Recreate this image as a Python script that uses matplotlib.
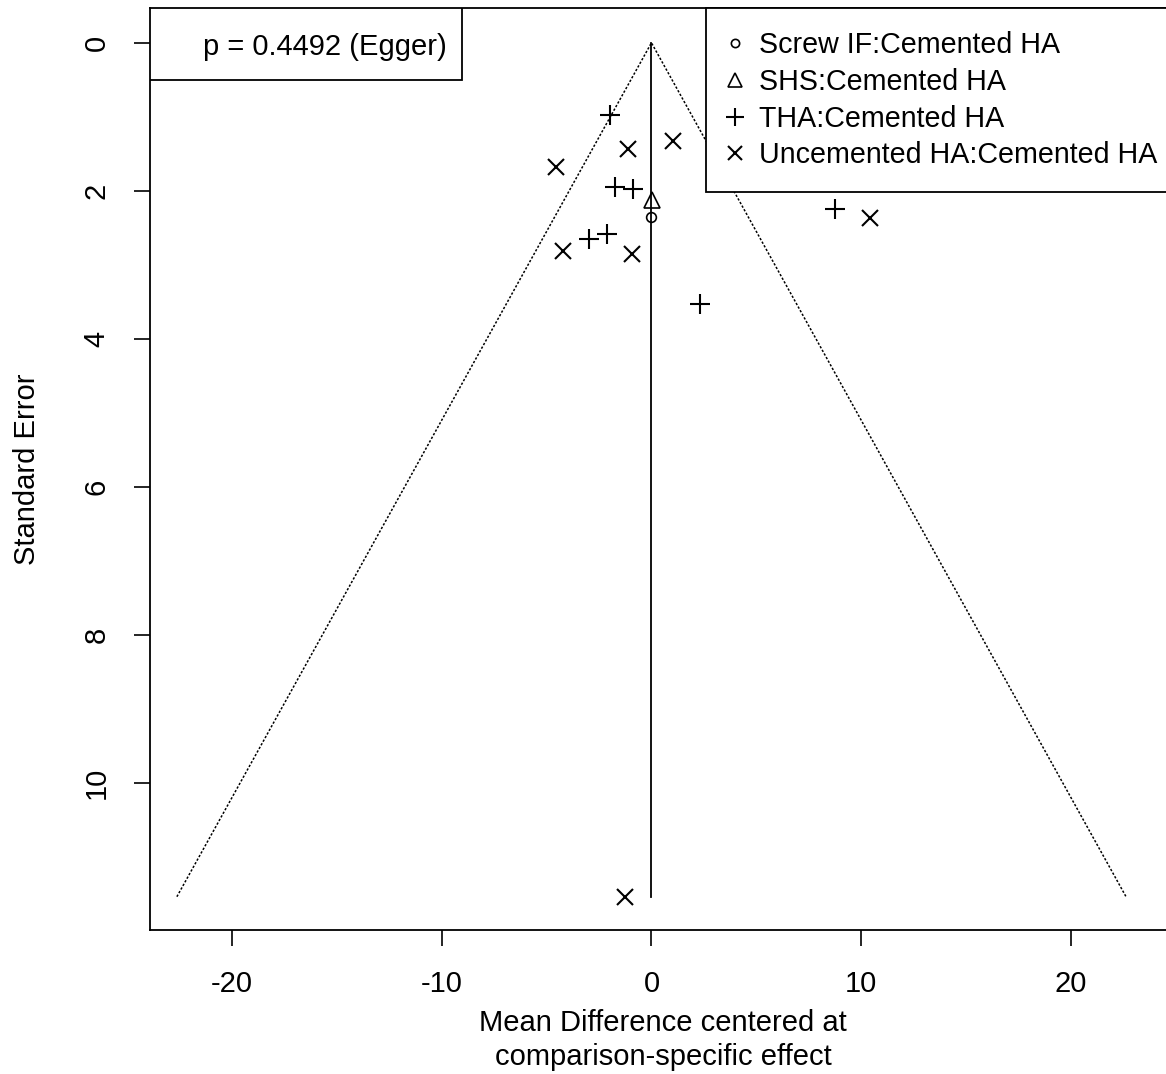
import numpy as np
import matplotlib
matplotlib.use("Agg")
import matplotlib.pyplot as plt
from matplotlib.patches import Rectangle

# ===================== 字体 =====================
plt.rcParams["font.family"] = ["Liberation Sans", "DejaVu Sans"]
plt.rcParams["axes.unicode_minus"] = False

# ===================== 数据 =====================
groups = ["Screw IF:Cemented HA", "SHS:Cemented HA",
          "THA:Cemented HA", "Uncemented HA:Cemented HA"]
markers = ["o", "^", "+", "x"]
marker_sizes = [7, 12, 14.5, 11.5]

screw_md = [0.0]
screw_se = [2.35]

shs_md = [0.03]
shs_se = [2.12]

tha_md = [-1.96, -1.75, -0.87, -2.99, -2.11, 2.30, 8.77]
tha_se = [0.97, 1.95, 1.97, 2.65, 2.58, 3.53, 2.25]

unc_md = [-1.11, 1.02, -4.55, -4.21, -0.92, 10.40, -1.27]
unc_se = [1.44, 1.33, 1.68, 2.82, 2.86, 2.37, 11.54]

md_all = [screw_md, shs_md, tha_md, unc_md]
se_all = [screw_se, shs_se, tha_se, unc_se]

p_egger = 0.4492
x_ticks = [-20, -10, 0, 10, 20]
y_ticks = [0, 2, 4, 6, 8, 10]

# ===================== 画图 =====================
fig = plt.figure(figsize=(11.66, 10.74), dpi=100)
ax = fig.add_axes([0.12864, 0.13408, 0.87993, 0.85847])

max_se = max(max(s) for s in se_all)
# 漏斗线
ax.plot([-1.96 * max_se, 0, 1.96 * max_se], [max_se, 0, max_se],
        color="black", lw=1.1, linestyle=(0, (1.5, 1.2)))
ax.plot([0, 0], [0, max_se], color="black", lw=1.3)

for md, se, m, ms, lab in zip(md_all, se_all, markers, marker_sizes, groups):
    if m in ("o", "^"):
        ax.plot(md, se, linestyle="none", marker=m, markersize=ms,
                markerfacecolor="none", markeredgecolor="black",
                markeredgewidth=1.2, label=lab)
    else:
        ax.plot(md, se, linestyle="none", marker=m, markersize=ms,
                color="black", markeredgewidth=1.5, label=lab)

ax.set_xlim(-23.9, 25.0)
ax.set_ylim(11.99, -0.47)
ax.set_xticks(x_ticks)
ax.set_yticks(y_ticks)
ax.tick_params(axis="both", direction="out", length=11.5, width=1.2,
               labelsize=21, pad=17)
for lbl in ax.get_yticklabels():
    lbl.set_rotation(90)
    lbl.set_va("center")

for side in ["left", "bottom", "top", "right"]:
    ax.spines[side].set_linewidth(1.3)

ax.set_xlabel("Mean Difference centered at\ncomparison-specific effect",
              fontsize=21, labelpad=8, linespacing=1.3)
ax.set_ylabel("Standard Error", fontsize=21, labelpad=30)

# p 值框
ax.add_patch(Rectangle((0, 1 - 0.0781), 0.3041, 0.0781, transform=ax.transAxes,
                       facecolor="white", edgecolor="black", lw=1.3, zorder=5))
ax.text(0.2895, 0.9577, f"p = {p_egger:.4f} (Egger)", transform=ax.transAxes,
        ha="right", va="center", fontsize=21, zorder=6)

# 图例
leg = ax.legend(loc="upper left", bbox_to_anchor=(0.5419, 1.0),
                borderaxespad=0, fontsize=20.6, frameon=True, fancybox=False,
                edgecolor="black", framealpha=1, borderpad=0.8,
                handlelength=0.43, handletextpad=0.63, labelspacing=0.31,
                markerscale=0.85)
leg.get_frame().set_linewidth(1.3)

fig.savefig("out.png", dpi=100)
